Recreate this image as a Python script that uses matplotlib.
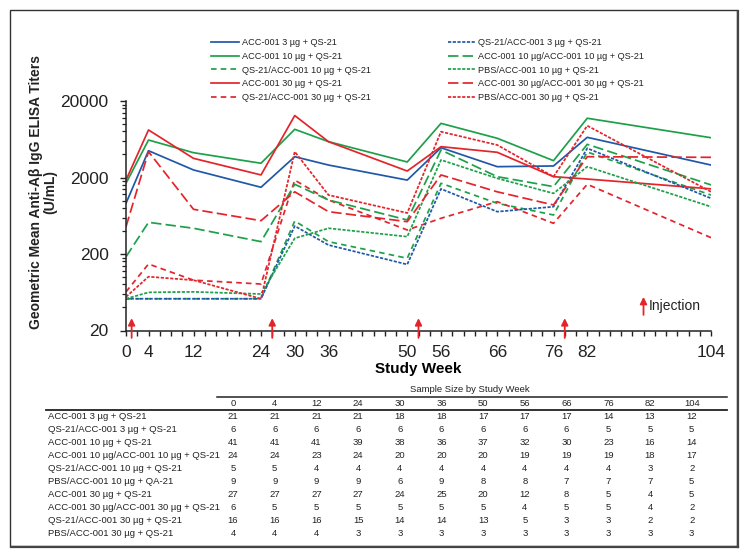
import matplotlib.pyplot as plt
from matplotlib.ticker import FixedLocator, NullFormatter
from matplotlib.patches import Rectangle
from matplotlib.lines import Line2D

plt.rcParams['font.family'] = ['Liberation Sans', 'DejaVu Sans']
plt.rcParams['lines.scale_dashes'] = False

# study weeks and injection weeks
weeks = [0, 4, 12, 24, 30, 36, 50, 56, 66, 76, 82, 104]
injections = [1, 26, 52, 78]

# geometric mean titers (U/mL)
acc3 = [920, 4480, 2510, 1490, 3740, 2910, 1850, 4900, 2770, 2830, 6700, 2910]
qs_acc3 = [52, 52, 52, 52, 464, 262, 146, 1420, 715, 830, 4820, 1070]
acc10 = [1680, 6180, 4220, 3070, 8530, 5880, 3190, 10200, 6510, 3320, 11900, 6620]
acc10_acc10 = [184, 519, 434, 290, 1630, 1016, 557, 4570, 2050, 1520, 5430, 1600]
qs_acc10 = [52, 52, 52, 52, 540, 290, 176, 1680, 920, 647, 4310, 1180]
pbs_acc10 = [52, 63, 64, 60, 321, 434, 337, 3390, 1950, 1240, 2770, 830]
acc30 = [1850, 8360, 3560, 2160, 12900, 5880, 2430, 5060, 4270, 2050, 1910, 1420]
acc30_acc30 = [455, 4350, 768, 545, 1300, 715, 529, 2160, 1300, 875, 3740, 3670]
qs_acc30 = [64, 148, 91, 81, 1850, 1016, 412, 586, 966, 504, 1630, 327]
pbs_acc30 = [55, 101, 91, 52, 4350, 1180, 687, 7940, 5320, 2050, 9510, 1300]

# sample size table
row_labels = ['ACC-001 3 \u00b5g + QS-21',
              'QS-21/ACC-001 3 \u00b5g + QS-21',
              'ACC-001 10 \u00b5g + QS-21',
              'ACC-001 10 \u00b5g/ACC-001 10 \u00b5g + QS-21',
              'QS-21/ACC-001 10 \u00b5g + QS-21',
              'PBS/ACC-001 10 \u00b5g + QA-21',
              'ACC-001 30 \u00b5g + QS-21',
              'ACC-001 30 \u00b5g/ACC-001 30 \u00b5g + QS-21',
              'QS-21/ACC-001 30 \u00b5g + QS-21',
              'PBS/ACC-001 30 \u00b5g + QS-21']
n_acc3 = [21, 21, 21, 21, 18, 18, 17, 17, 17, 14, 13, 12]
n_qs_acc3 = [6, 6, 6, 6, 6, 6, 6, 6, 6, 5, 5, 5]
n_acc10 = [41, 41, 41, 39, 38, 36, 37, 32, 30, 23, 16, 14]
n_acc10_acc10 = [24, 24, 23, 24, 20, 20, 20, 19, 19, 19, 18, 17]
n_qs_acc10 = [5, 5, 4, 4, 4, 4, 4, 4, 4, 4, 3, 2]
n_pbs_acc10 = [9, 9, 9, 9, 6, 9, 8, 8, 7, 7, 7, 5]
n_acc30 = [27, 27, 27, 27, 24, 25, 20, 12, 8, 5, 4, 5]
n_acc30_acc30 = [6, 5, 5, 5, 5, 5, 5, 4, 5, 5, 4, 2]
n_qs_acc30 = [16, 16, 16, 15, 14, 14, 13, 5, 3, 3, 2, 2]
n_pbs_acc30 = [4, 4, 4, 3, 3, 3, 3, 3, 3, 3, 3, 3]

blue = '#1f58a8'
green = '#1ea04a'
red = '#e3252b'
longd = (0, (7.5, 3.0))
medd = (0, (4.0, 3.0))
shortd = (0, (2.3, 1.1))

W, H = 745, 555
fig = plt.figure(figsize=(W / 100, H / 100), dpi=100)


def fx(px):
    return px / W


def fy(py):
    return 1 - py / H


ax = fig.add_axes([fx(126), fy(330.5), fx(711) - fx(126), fy(101) - fy(330.5)])

series = [
    (acc3, 'ACC-001 3 \u00b5g + QS-21', blue, '-'),
    (acc10, 'ACC-001 10 \u00b5g + QS-21', green, '-'),
    (qs_acc10, 'QS-21/ACC-001 10 \u00b5g + QS-21', green, medd),
    (acc30, 'ACC-001 30 \u00b5g + QS-21', red, '-'),
    (qs_acc30, 'QS-21/ACC-001 30 \u00b5g + QS-21', red, medd),
    (qs_acc3, 'QS-21/ACC-001 3 \u00b5g + QS-21', blue, shortd),
    (acc10_acc10, 'ACC-001 10 \u00b5g/ACC-001 10 \u00b5g + QS-21', green, longd),
    (pbs_acc10, 'PBS/ACC-001 10 \u00b5g + QS-21', green, shortd),
    (acc30_acc30, 'ACC-001 30 \u00b5g/ACC-001 30 \u00b5g + QS-21', red, longd),
    (pbs_acc30, 'PBS/ACC-001 30 \u00b5g + QS-21', red, shortd),
]
for vals, lab, col, ls in series:
    ax.plot(weeks, vals, color=col, linestyle=ls, lw=1.25, label=lab)

ax.set_yscale('log')
ax.set_ylim(20, 20000)
ax.set_xlim(0, 104)
ax.yaxis.set_major_locator(FixedLocator([20, 200, 2000, 20000]))
ax.set_yticklabels(['20', '200', '2000', '20000'])
ax.yaxis.set_minor_locator(FixedLocator([d * k for d in (20, 200, 2000) for k in range(2, 10)]))
ax.yaxis.set_minor_formatter(NullFormatter())
ax.set_xticks(weeks)
ax.set_xticklabels([str(w) for w in weeks])
ax.xaxis.set_minor_locator(FixedLocator(list(range(0, 105, 2))))
ax.tick_params(axis='y', which='major', length=4.5, width=1, pad=8, labelsize=12.5, colors='#222222')
ax.tick_params(axis='y', which='minor', length=2.6, width=0.9, colors='#222222')
ax.tick_params(axis='x', which='both', length=3.6, width=1, pad=7, labelsize=12.5, colors='#222222')
for s in ['top', 'right']:
    ax.spines[s].set_visible(False)
for s in ['left', 'bottom']:
    ax.spines[s].set_linewidth(1.1)
    ax.spines[s].set_color('#222222')

ax.set_xlabel('Study Week', fontsize=11, fontweight='bold', labelpad=1)
fig.text(fx(43), fy(192), 'Geometric Mean Anti-A\u03b2 IgG ELISA Titers\n(U/mL)',
         rotation=90, ha='center', va='center', fontsize=10, fontweight='bold',
         linespacing=1.0, color='#222222')

# injection arrows
for w in injections:
    ax.annotate('', xy=(w, 29), xytext=(w, 16), annotation_clip=False,
                arrowprops=dict(arrowstyle='-|>', color=red, lw=1.3, mutation_scale=10,
                                shrinkA=0, shrinkB=0))
ax.annotate('', xy=(92, 55), xytext=(92, 32), annotation_clip=False,
            arrowprops=dict(arrowstyle='-|>', color=red, lw=1.3, mutation_scale=10,
                            shrinkA=0, shrinkB=0))
ax.text(93, 42, 'Injection', fontsize=10, va='center', ha='left', color='#222222')

# legend
leg = fig.legend(loc='upper left', bbox_to_anchor=(fx(211), fy(38)), ncol=2,
                 frameon=False, fontsize=6.6, handlelength=3.0, handletextpad=0.35,
                 columnspacing=8.4, labelspacing=0.52, borderpad=0, borderaxespad=0)
for t in leg.get_texts():
    t.set_color('#222222')

# sample size table
fig.text(fx(470), fy(390), 'Sample Size by Study Week', ha='center', va='center', fontsize=6.8, color='#222222')
fig.add_artist(Line2D([fx(217), fx(727)], [fy(396.5), fy(396.5)], color='#222222', lw=1.1))
fig.add_artist(Line2D([fx(46), fx(727)], [fy(410), fy(410)], color='#222222', lw=1.3))
col_x = [233 + 41.7 * i for i in range(len(weeks))]
for cx, w in zip(col_x, weeks):
    fig.text(fx(cx), fy(403.5), str(w), ha='center', va='center', fontsize=6.8, color='#222222')
table = [n_acc3, n_qs_acc3, n_acc10, n_acc10_acc10, n_qs_acc10, n_pbs_acc10,
         n_acc30, n_acc30_acc30, n_qs_acc30, n_pbs_acc30]
for r, (lab, row) in enumerate(zip(row_labels, table)):
    ry = 416.5 + 13.0 * r
    fig.text(fx(48), fy(ry), lab, ha='left', va='center', fontsize=6.8, color='#222222')
    for cx, n in zip(col_x, row):
        fig.text(fx(cx), fy(ry), str(n), ha='center', va='center', fontsize=6.8, color='#222222')

# outer frame
fig.add_artist(Rectangle((fx(10), fy(546)), fx(737) - fx(10), fy(9.5) - fy(546),
                         fill=False, edgecolor='#333333', lw=1.0, transform=fig.transFigure))
fig.add_artist(Line2D([fx(737.5), fx(737.5)], [fy(11), fy(547)], color='#444444', lw=1.6))
fig.add_artist(Line2D([fx(11), fx(738)], [fy(546.5), fy(546.5)], color='#444444', lw=1.6))

fig.savefig('out.png', dpi=100)
